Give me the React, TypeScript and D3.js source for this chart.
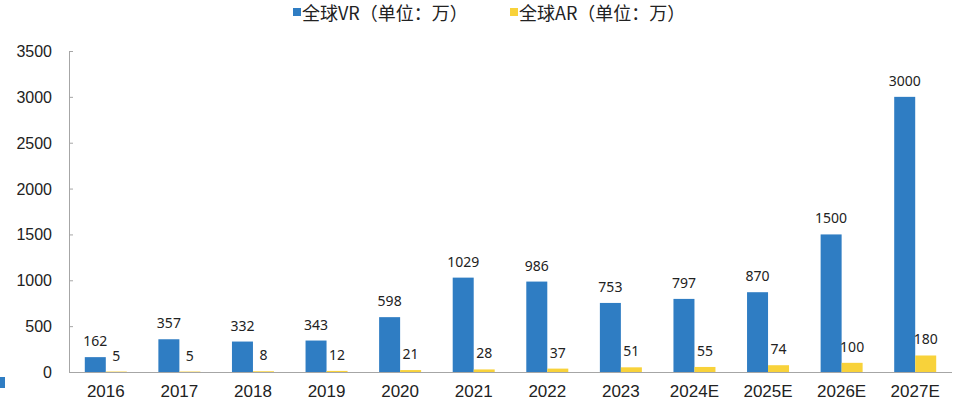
import React from "react";
import * as d3 from "d3";

const categories = ["2016", "2017", "2018", "2019", "2020", "2021", "2022", "2023", "2024E", "2025E", "2026E", "2027E"];
const vrValues = [162, 357, 332, 343, 598, 1029, 986, 753, 797, 870, 1500, 3000];
const arValues = [5, 5, 8, 12, 21, 28, 37, 51, 55, 74, 100, 180];
const yTicks = [0, 500, 1000, 1500, 2000, 2500, 3000, 3500];
const seriesNames = ["全球VR（单位：万）", "全球AR（单位：万）"];

const W = 960, H = 407;
const left = 69, right = 952, top = 51, bottom = 372;
const blue = "#2F7DC3";
const yellow = "#F8D23A";
const font = "'Liberation Sans', Arial, 'Noto Sans CJK SC', sans-serif";
const labelFont = "'Noto Sans', 'Open Sans', sans-serif";

export default function App() {
  const x = d3.scaleBand<string>().domain(categories).range([left, right]).padding(0);
  const y = d3.scaleLinear().domain([0, 3500]).range([bottom, top]);
  const barW = 21;

  return (
    <svg width={W} height={H} style={{ position: "absolute", left: 0, top: 0, background: "#fff" }}>
      {/* legend */}
      <rect x={293} y={8} width={8} height={8} fill={blue} />
      <text x={302} y={20} fontSize={18} fontFamily="'Noto Sans CJK SC', sans-serif" fill="#222">{seriesNames[0]}</text>
      <rect x={510} y={8} width={8} height={8} fill={yellow} />
      <text x={519} y={20} fontSize={18} fontFamily="'Noto Sans CJK SC', sans-serif" fill="#222">{seriesNames[1]}</text>

      {/* y axis */}
      <line x1={left + 0.5} x2={left + 0.5} y1={top} y2={bottom} stroke="#a6a6a6" strokeWidth={1} />
      {yTicks.map((t) => (
        <g key={t}>
          <line x1={left} x2={left + 4} y1={y(t) + 0.5} y2={y(t) + 0.5} stroke="#a6a6a6" />
          <text x={52} y={y(t) + 6} textAnchor="end" fontSize={16} fontFamily={font} fill="#222">{t}</text>
        </g>
      ))}

      {/* bars */}
      {categories.map((c, i) => {
        const cx = (x(c) as number) + x.bandwidth() / 2;
        return (
          <g key={c}>
            <rect x={cx - barW} y={y(vrValues[i])} width={barW} height={bottom - y(vrValues[i])} fill={blue} />
            <rect x={cx} y={y(arValues[i])} width={barW} height={bottom - y(arValues[i])} fill={yellow} />
            <text x={cx - barW / 2} y={y(vrValues[i]) - 11} textAnchor="middle" fontSize={14} fontFamily={labelFont} fill="#222">{vrValues[i]}</text>
            <text x={cx + barW / 2} y={y(arValues[i]) - 11} textAnchor="middle" fontSize={14} fontFamily={labelFont} fill="#222">{arValues[i]}</text>
            <text x={cx} y={bottom + 25} textAnchor="middle" fontSize={17} fontFamily={font} fill="#222">{c}</text>
          </g>
        );
      })}

      {/* x axis */}
      <line x1={left} x2={right} y1={bottom + 0.5} y2={bottom + 0.5} stroke="#a6a6a6" />

      {/* small marker bottom-left */}
      <rect x={0} y={377} width={5} height={11} fill={blue} />
    </svg>
  );
}
